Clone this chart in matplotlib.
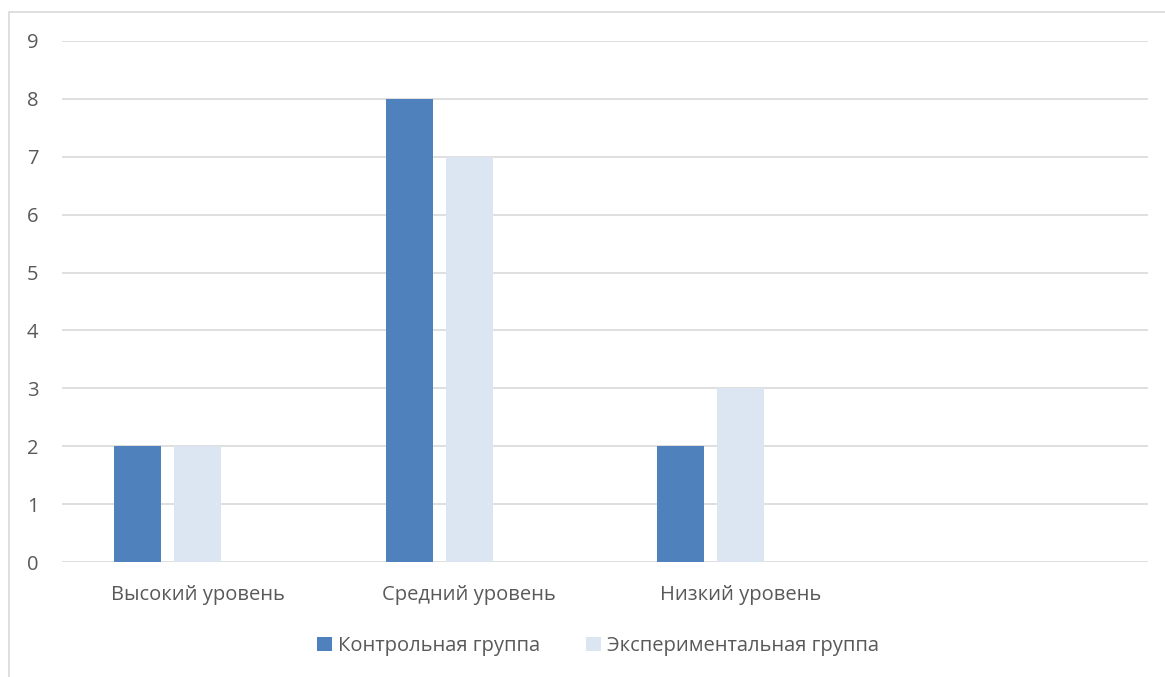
import matplotlib
matplotlib.use("Agg")
import matplotlib.pyplot as plt
from matplotlib.patches import Rectangle
import numpy as np

categories = ["Высокий уровень", "Средний уровень", "Низкий уровень", ""]
control = [2, 8, 2, np.nan]
experimental = [2, 7, 3, np.nan]
series_names = ["Контрольная группа", "Экспериментальная группа"]
colors = ["#4F81BD", "#DCE6F2"]
yticks = list(range(0, 10))

plt.rcParams['font.family'] = ['Open Sans', 'DejaVu Sans']

fig = plt.figure(figsize=(11.65, 6.77), dpi=100)
ax = fig.add_axes([62/1165, 1-562/677, (1148-62)/1165, (562-41)/677])

# outer chart frame (partially cropped)
fig.patches.append(Rectangle((9/1165, -0.05), 1.2, 1-12/677+0.05, transform=fig.transFigure,
                             fill=False, edgecolor="#D9D9D9", linewidth=1.2))

x = np.arange(len(categories))
w = 47/271.5
off = 60/271.5
ax.bar(x - off, control, w, color=colors[0], label=series_names[0], zorder=3)
ax.bar(x, experimental, w, color=colors[1], label=series_names[1], zorder=3)

ax.set_xlim(-0.5, len(categories) - 0.5)
ax.set_ylim(0, 9)
ax.set_yticks(yticks)
ax.set_yticklabels([str(t) for t in yticks])
ax.set_xticks(x[:3])
ax.set_xticklabels(categories[:3])
ax.grid(axis='y', color="#D9D9D9", linewidth=1.2, zorder=0)
for s in ax.spines.values():
    s.set_visible(False)
ax.tick_params(length=0, colors="#595959", labelsize=14.5)
ax.tick_params(axis='y', pad=17)
ax.tick_params(axis='x', pad=16.5)
for lbl in ax.get_xticklabels() + ax.get_yticklabels():
    lbl.set_color("#595959")

leg = fig.legend(loc='center', bbox_to_anchor=(598/1165, 1-646/677), ncol=2, frameon=False,
                 fontsize=14.5, handlelength=0.75, handleheight=0.75, handletextpad=0.3,
                 columnspacing=2.3, labelcolor="#595959")

fig.savefig("out.png", dpi=100)
